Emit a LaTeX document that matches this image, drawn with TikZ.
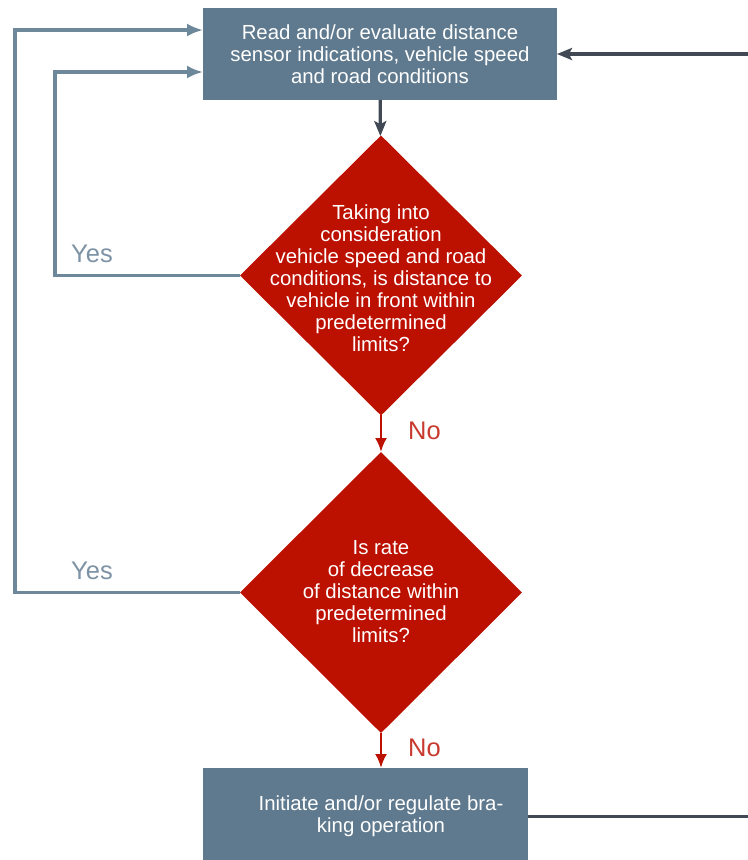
\documentclass[tikz,border=0pt]{standalone}
\usepackage{fontspec}
\setmainfont{Liberation Sans}
\usetikzlibrary{arrows.meta,shapes.geometric}

\definecolor{boxslate}{HTML}{5F7A8E}
\definecolor{lineslate}{HTML}{6E889B}
\definecolor{yesslate}{HTML}{7D93A5}
\definecolor{decred}{HTML}{BC1000}
\definecolor{nored}{HTML}{C8392E}
\definecolor{darkline}{HTML}{414955}

\begin{document}
\begin{tikzpicture}[x=0.02cm,y=-0.02cm,
  procbox/.style={rectangle,fill=boxslate,text=white,align=center,
    font=\fontsize{11.6}{12.5}\selectfont,inner sep=0pt,outer sep=0pt},
  decision/.style={diamond,fill=decred,minimum width=5.64cm,
    minimum height=5.6cm,inner sep=0pt,outer sep=0pt},
  dectext/.style={text=white,align=center,font=\fontsize{11.6}{12.5}\selectfont},
  backline/.style={lineslate,line width=1.8pt,-{Latex[length=0.32cm,width=0.26cm]}},
  mainline/.style={darkline,line width=1.8pt,-{Stealth[length=0.3cm,width=0.24cm,inset=0.06cm]}},
  redline/.style={decred,line width=1.5pt,-{Latex[length=0.28cm,width=0.24cm]}},
  yeslabel/.style={text=yesslate,font=\fontsize{14.5}{16}\selectfont},
  nolabel/.style={text=nored,font=\fontsize{14.5}{16}\selectfont}]
\useasboundingbox (0,0) rectangle (748,860);
\clip (0,0) rectangle (748,860);

\node[procbox,minimum width=7.08cm,minimum height=1.84cm] (read) at (380,54)
  {Read and/or evaluate distance\\sensor indications, vehicle speed\\and road conditions};
\node[decision] (q1) at (381,275.5) {};
\node[dectext] at (381,278) {Taking into\\consideration\\vehicle speed and road\\conditions, is distance to\\vehicle in front within\\predetermined\\limits?};
\node[decision,minimum height=5.62cm] (q2) at (381,592.5) {};
\node[dectext] at (381,592) {Is rate\\of decrease\\of distance within\\predetermined\\limits?};
\node[procbox,minimum width=6.5cm,minimum height=1.94cm] (act) at (365.5,816.5) {};
\node[dectext] at (381,816.5) {Initiate and/or regulate bra-\\king operation};

\draw[mainline] (read) -- (q1);
\draw[redline] (q1) -- node[nolabel,right=0.4cm,yshift=0.06cm]{No} (q2);
\draw[redline] (q2.south) -- node[nolabel,right=0.4cm,yshift=0.06cm]{No} (q2.south |- act.north);
\draw[backline] (q1.west) -- node[yeslabel,pos=0.8,above=3pt]{Yes} ++(-185,0)
  |- ([yshift=-0.36cm]read.west);
\draw[backline] (q2.west) -- node[yeslabel,pos=0.658,above=3pt]{Yes} ++(-225,0)
  |- ([yshift=0.48cm]read.west);
\draw[mainline] (act.east) -- ++(250,0) |- (read.east);
\end{tikzpicture}
\end{document}
